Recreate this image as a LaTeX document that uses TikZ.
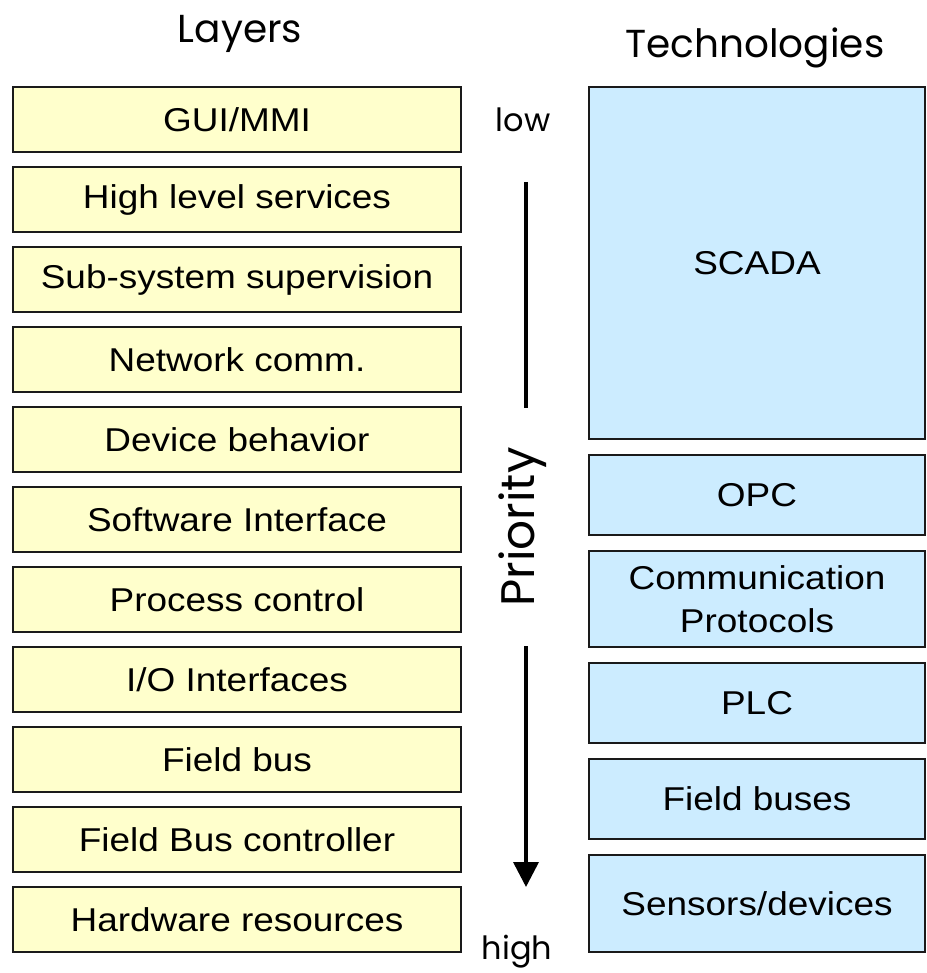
\documentclass[tikz,border=0pt]{standalone}
\usepackage{fontspec}
\setmainfont[FakeStretch=1.12]{Liberation Sans}
\newfontfamily\handfont{Poppins}
\usetikzlibrary{arrows.meta}
\definecolor{layerfill}{HTML}{FFFFCC}
\definecolor{techfill}{HTML}{CCECFF}
\definecolor{edge}{HTML}{1A1A1A}
\begin{document}
\begin{tikzpicture}[x=1pt,y=-1pt,
  box/.style={draw=edge,line width=2.4pt,rectangle,inner sep=0pt,
    font=\fontsize{33}{43}\selectfont,align=center},
  layer/.style={box,fill=layerfill,minimum width=448pt,minimum height=65pt},
  tech/.style={box,fill=techfill,minimum width=336pt},
  head/.style={font=\handfont\fontsize{39}{47}\selectfont,inner sep=0pt},
  tag/.style={font=\handfont\fontsize{32}{38}\selectfont,inner sep=0pt},
  rule/.style={line width=3.6pt}]
\useasboundingbox (0,0) rectangle (926,973);

% column headings
\node[head,anchor=base] (hl) at (240,43) {Layers};
\node[head,anchor=base] (ht) at (755,58) {Technologies};

% layer stack, pitch 80
\foreach \t [count=\i from 0] in {GUI/MMI,High level services,
  Sub-system supervision,Network comm.,Device behavior,Software Interface,
  Process control,I/O Interfaces,Field bus,Field Bus controller,
  Hardware resources}
  \node[layer] (l\i) at (237,{119.5+80*\i}) {\t};

% technology stack
\node[tech,minimum height=352pt] (scada) at (757,263) {SCADA};
\node[tech,minimum height=80pt] (opc) at (757,495) {OPC};
\node[tech,minimum height=96pt] (comm) at (757,599) {Communication\\Protocols};
\node[tech,minimum height=80pt] (plc) at (757,703) {PLC};
\node[tech,minimum height=80pt] (fbus) at (757,799) {Field buses};
\node[tech,minimum height=97pt] (sens) at (757,903.5) {Sensors/devices};

% priority scale
\node[tag] (low) at (523,120) {low};
\node[tag] (high) at (517,952) {high};
\node[font=\handfont\fontsize{47}{56}\selectfont,inner sep=0pt,rotate=90] (prio) at (523,527) {Priority};
\coordinate (ua) at (526,182);
\coordinate (ub) at (526,408);
\coordinate (da) at (526,646);
\coordinate (db) at (526,887);
\draw[rule] (ua) -- (ub);
\draw[rule,-{Triangle[length=25pt,width=25pt]}] (da) -- (db);
\end{tikzpicture}
\end{document}
